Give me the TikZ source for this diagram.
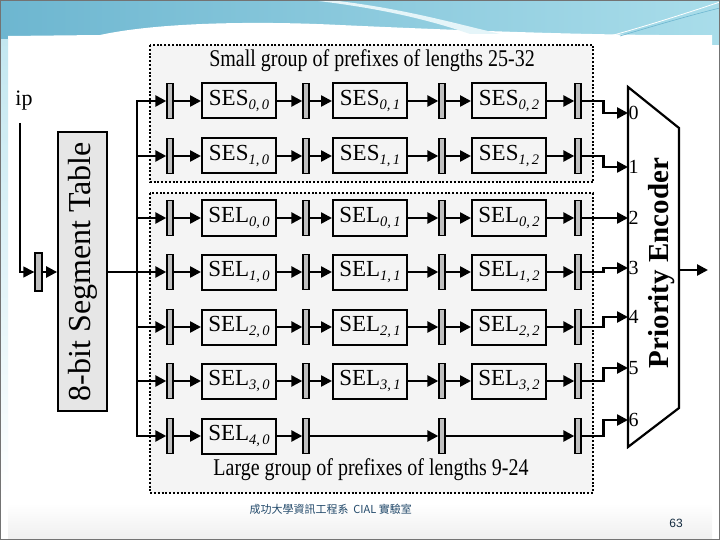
\documentclass[tikz,border=0pt]{standalone}
\usepackage{fontspec}
\setmainfont{Liberation Serif}
\newfontfamily\cjk{Noto Sans CJK TC}
\newfontfamily\arialfont{Liberation Sans}
\usetikzlibrary{arrows.meta,positioning}

\definecolor{headdark}{HTML}{6DB6D0}
\definecolor{headlight}{HTML}{A9DDEA}
\definecolor{groupfill}{HTML}{F4F4F4}
\definecolor{segfill}{HTML}{E6E6E6}
\definecolor{footblue}{HTML}{234A6B}

\tikzset{
  reg/.style={draw, line width=1.4pt, fill=black!25, minimum width=6pt, minimum height=35pt, inner sep=0pt},
  cell/.style={draw, line width=2pt, minimum width=74pt, minimum height=35pt, inner sep=0pt, font=\fontsize{23}{23}\selectfont},
  arr/.style={line width=2.5pt, -{Triangle[length=11pt,width=11pt]}},
  wire/.style={line width=2.8pt},
  group/.style={draw, line width=2pt, dash pattern=on 2pt off 1.8pt, fill=groupfill},
  title/.style={font=\fontsize{20}{20}\selectfont},
}
\newcommand\sub[1]{\raisebox{-0.35ex}{\fontsize{14.5}{14.5}\selectfont\itshape #1}}

\begin{document}
\begin{tikzpicture}[x=1pt,y=-1pt]
\useasboundingbox (0,0) rectangle (720,540);

% slide background
\fill[left color=headdark, right color=headlight] (0,0) rectangle (720,45);
\fill[white] (8,540) -- (8,36) -- (100,35) .. controls (160,22) and (260,21) .. (340,25)
  .. controls (450,30) and (600,36) .. (712,35) -- (712,540) -- cycle;
\fill[white!70!headlight] (330,0) .. controls (400,8) and (450,22) .. (500,34) -- (470,34) .. controls (430,20) and (380,8) .. (310,0) -- cycle;
\draw[white, line width=0.8pt] (610,36) .. controls (650,25) and (690,12) .. (720,2);
\draw[headdark, line width=0.6pt] (620,36) .. controls (660,24) and (695,14) .. (720,8);
\fill[top color=headlight!70, bottom color=white] (0,40) rectangle (8,500);
\fill[top color=white, bottom color=black!6] (8,503) rectangle (712,538);
\draw[black!55, line width=1pt] (0.5,0.5) rectangle (719.5,539.5);

% groups
\draw[group] (150,45) rectangle (593,182);
\draw[group] (150,193) rectangle (593,493);
\node[title] (small) at (372,61) {\scalebox{1}[1.2]{Small group of prefixes of lengths 25-32}};
\node[title] (large) at (371,470) {\scalebox{1}[1.2]{Large group of prefixes of lengths 9-24}};

% registers and trunk
\foreach \y [count=\r from 0] in {101,156,218,272,327,381,436} {
  \coordinate (t\r) at (137,\y);
  \foreach \x [count=\c from 0] in {170,306,442,578}
    \node[reg] (r\r\c) at (\x,\y) {};
}

% search engines
\foreach \y/\t/\i [count=\r from 0] in {101/SES/0,156/SES/1,218/SEL/0,272/SEL/1,327/SEL/2,381/SEL/3}
  \foreach \x [count=\c from 0] in {239,370,509}
    \node[cell] (b\r\c) at (\x,\y) {\t\sub{\i,\,\c}};
\node[cell] (b60) at (239,436) {SEL\sub{4,\,0}};

\foreach \r in {0,...,5}
  \foreach \c/\n in {0/1,1/2,2/3} {
    \draw[arr] (r\r\c) -- (b\r\c);
    \draw[arr] (b\r\c) -- (r\r\n);
  }
\draw[arr] (r60) -- (b60);
\draw[arr] (b60) -- (r61);
\draw[arr] (r61) -- (r62);
\draw[arr] (r62) -- (r63);

% segment table
\node[draw, line width=1.8pt, fill=segfill, minimum width=49pt, minimum height=279pt] (seg) at (82.5,271.5) {};
\node[rotate=90, font=\fontsize{32}{32}\selectfont] at (seg.center) {8-bit Segment Table};
\node[font=\fontsize{22}{22}\selectfont] (ip) at (24,101) {ip};
\coordinate (ipdown) at (20,123);
\node[reg, minimum width=7pt, minimum height=38pt] (inreg) at (38.5,272) {};
\draw[line width=1.4pt, -{Triangle[length=11pt,width=11pt]}] (ipdown) |- (inreg);
\draw[arr] (inreg) -- (seg.west |- inreg);
\draw[wire] (seg.east |- t3) -- (t3);
\draw[arr, line join=miter] (t3) -- (t0) -- (r00);
\draw[arr, line join=miter] (t3) -- (t6) -- (r60);
\foreach \r in {1,...,5}
  \draw[arr] (t\r) -- (r\r0);

% priority encoder
\draw[line width=2.2pt, line join=miter] (628,87) -- (679,128) -- (679,408) -- (628,447) -- cycle;
\node[rotate=90, font=\bfseries\fontsize{29}{29}\selectfont] (penc) at (662,263) {Priority Encoder};
\foreach \y [count=\r from 0] in {113,167,218,268,317,368,420} {
  \coordinate (in\r) at (628,\y);
  \node[anchor=west, inner sep=0.5pt, font=\fontsize{20}{20}\selectfont] (n\r) at (in\r) {\r};
}
\foreach \r in {0,...,6}
  \draw[arr] (r\r3.east) -- ++(22,0) |- (in\r);
\coordinate (encout) at (679,270);
\coordinate (q) at (708,270);
\draw[arr] (encout) -- (q);

% footer
\node[font=\cjk\fontsize{11}{11}\selectfont, text=footblue, anchor=west] (foot) at (246,509) {成功大學資訊工程系\ \ CIAL 實驗室};
\node[font=\arialfont\fontsize{12}{12}\selectfont, text=footblue!60!black] (pg) at (676,523) {63};
\end{tikzpicture}
\end{document}
